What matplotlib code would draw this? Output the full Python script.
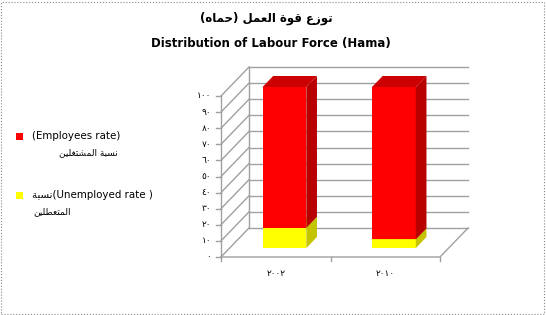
import matplotlib.pyplot as plt
from matplotlib.patches import Polygon, Rectangle

# data (percent)
years = ['٢٠٠٢', '٢٠١٠']
unemployed = [12.5, 5.3]
employed = [87.5, 94.7]
yticks = list(range(0, 101, 10))

# Arabic text in visual (left to right) order with presentation forms
title_ar = '(ﻩﺎﻤﺣ) ﻞﻤﻌﻟﺍ ﺓﻮﻗ ﻉﺯﻮﺗ'
title_en = 'Distribution of Labour Force (Hama)'
lab_emp = ['(Employees rate)', 'ﻦﻴﻠﻐﺘﺸﻤﻟﺍ ﺔﺒﺴﻧ']
lab_unemp = ['ﺔﺒﺴﻧ(Unemployed rate )', 'ﻦﻴﻠﻄﻌﺘﻤﻟﺍ']

arabic_digits = str.maketrans('0123456789', '٠١٢٣٤٥٦٧٨٩')

W, H = 546, 315
fig = plt.figure(figsize=(W / 100, H / 100), dpi=100)
ax = fig.add_axes([0, 0, 1, 1])
ax.axis('off')

# pixel mapping: x=-0.5 -> 221px, 109.5 px per category; y=0 -> 257px from top, 1.61 px per unit
px_x, px_y = 109.5, 1.61
x0 = -0.5 - 221 / px_x
y0 = -(H - 257) / px_y
ax.set_xlim(x0, x0 + W / px_x)
ax.set_ylim(y0, y0 + H / px_y)

DX, DY = 28 / px_x, 29 / px_y   # depth of the 3d box
grid_c = '#a0a0a0'
xl, xr = -0.5, 1.5

# walls and floor
for v in yticks:
    ax.plot([xl + DX, xr + DX], [v + DY, v + DY], color=grid_c, lw=1, zorder=1)
    ax.plot([xl, xl + DX], [v, v + DY], color=grid_c, lw=1, zorder=1)
ax.plot([xl + DX, xl + DX], [DY, 100 + DY], color=grid_c, lw=1, zorder=1)
ax.plot([xl, xr, xr + DX], [0, 0, DY], color=grid_c, lw=1, zorder=1)
ax.plot([xl, xl], [0, 100], color=grid_c, lw=1, zorder=1)

# ticks
for v in yticks:
    ax.plot([xl - 5 / px_x, xl], [v, v], color=grid_c, lw=1)
    ax.text(xl - 10 / px_x, v, str(v).translate(arabic_digits), ha='right', va='center',
            fontsize=6.5, family='DejaVu Sans')
for xt in [-0.5, 0.5, 1.5]:
    ax.plot([xt, xt], [0, -4 / px_y], color=grid_c, lw=1)
for i, yr in enumerate(years):
    ax.text(i, -10, yr, ha='center', va='center', fontsize=6.5, family='DejaVu Sans')

# bars as 3d boxes
w = 0.40
f0, f1 = 0.31, 0.69
ox0, oy0 = f0 * DX, f0 * DY
ddx, ddy = (f1 - f0) * DX, (f1 - f0) * DY
pos = list(range(len(years)))
series = [(unemployed, [0] * len(years), '#ffff00', '#c4c400', '#d8d800'),
          (employed, unemployed, '#ff0000', '#b80000', '#cc0000')]
for vals, bots, front, side, top in series:
    ax.bar([p + ox0 for p in pos], vals, width=w, bottom=[b + oy0 for b in bots],
           color=front, zorder=3)
    for p, v, b in zip(pos, vals, bots):
        xr_ = p + w / 2 + ox0
        yb, yt = b + oy0, b + v + oy0
        ax.add_patch(Polygon([(xr_, yb), (xr_ + ddx, yb + ddy), (xr_ + ddx, yt + ddy), (xr_, yt)],
                             closed=True, facecolor=side, edgecolor='none', zorder=3))
        xl_ = p - w / 2 + ox0
        ax.add_patch(Polygon([(xl_, yt), (xr_, yt), (xr_ + ddx, yt + ddy), (xl_ + ddx, yt + ddy)],
                             closed=True, facecolor=top, edgecolor='none', zorder=3))

# titles
fig.text(266 / W, 1 - 18 / H, title_ar, ha='center', va='center', fontsize=8.5,
         fontweight='bold', family='DejaVu Sans')
fig.text(271 / W, 1 - 43 / H, title_en, ha='center', va='center', fontsize=8.5,
         fontweight='bold', family='DejaVu Sans')

# legend
for (lab, col, yy) in [(lab_emp, '#ff0000', 136), (lab_unemp, '#ffff00', 195)]:
    fig.patches.append(Rectangle((16 / W, 1 - (yy + 3.5) / H), 7 / W, 7 / H, transform=fig.transFigure,
                                 facecolor=col, edgecolor='none'))
    fig.text(32 / W, 1 - yy / H, lab[0], ha='left', va='center', fontsize=7.4, family='DejaVu Sans')
fig.text(118 / W, 1 - 153 / H, lab_emp[1], ha='right', va='center', fontsize=6.5, family='DejaVu Sans')
fig.text(33 / W, 1 - 212 / H, lab_unemp[1], ha='left', va='center', fontsize=6.5, family='DejaVu Sans')

# dotted frame
fig.patches.append(Rectangle((1 / W, 1 / H), (W - 3) / W, (H - 3) / H, transform=fig.transFigure,
                             fill=False, edgecolor='#888888', lw=0.8, linestyle=':'))

fig.savefig('out.png', dpi=100)
